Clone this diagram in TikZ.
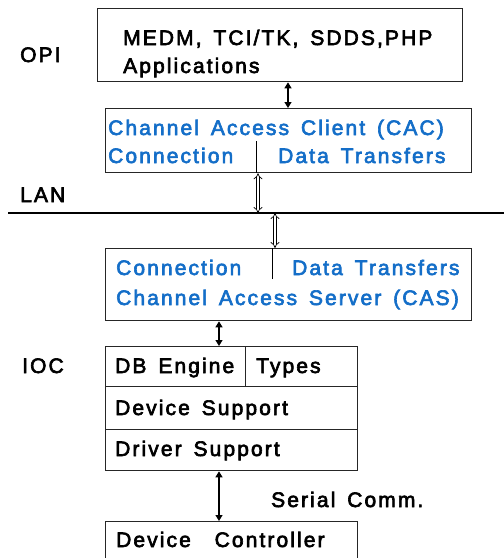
\documentclass[tikz,border=0pt]{standalone}
\usepackage{fontspec}
\setmainfont{Liberation Sans}
\newfontfamily\diagfont[LetterSpace=10, FakeBold=3, WordSpace=1.5]{Liberation Sans}
\usetikzlibrary{arrows.meta}

\definecolor{cablue}{RGB}{20,110,200}

\begin{document}
\begin{tikzpicture}[x=1pt, y=-1pt,
    box/.style={draw=black!85, line width=1.3pt, inner sep=0pt, anchor=north west},
    txt/.style={anchor=base west, inner sep=0pt, font=\diagfont\fontsize{21}{24}\selectfont},
    catxt/.style={txt, text=cablue},
    link/.style={line width=1.2pt, {Triangle[width=7pt,length=6pt]}-{Triangle[width=7pt,length=6pt]}},
    lanlink/.style={double=white, double distance=2.4pt, line width=0.7pt, {Implies}-{Implies}}]

  %% Frame
  \useasboundingbox (0,0) rectangle (504,558);
  \clip (0,0) rectangle (504,558);

  %% Layer names
  \node[txt] (opi) at (20,62) {OPI};
  \node[txt] (lan) at (20,202) {LAN};
  \node[txt] (ioc) at (22,373) {IOC};

  %% OPI applications
  \node[box, minimum width=365pt, minimum height=73pt] (apps) at (97,8) {};
  \node[txt] (appsA) at (123,45) {MEDM, TCI/TK, SDDS,PHP};
  \node[txt] (appsB) at (123,73) {Applications};

  %% Channel access client
  \node[box, minimum width=366pt, minimum height=64pt] (cac) at (105,108) {};
  \node[catxt] (cacA) at (108,135) {Channel Access Client (CAC)};
  \node[catxt] (cacB) at (108,163) {Connection};
  \node[catxt] (cacC) at (278,163) {Data Transfers};
  \coordinate (cacsep) at (256,141);
  \draw[line width=1pt] (cacsep) -- (cacsep |- cac.south);

  %% LAN
  \coordinate (lanL) at (8,213);
  \coordinate (lanR) at (504,213);
  \draw[line width=1.6pt] (lanL) -- (lanR);

  %% Channel access server
  \node[box, minimum width=366pt, minimum height=72pt] (cas) at (105,248) {};
  \node[catxt] (casA) at (116,275) {Connection};
  \node[catxt] (casB) at (292,275) {Data Transfers};
  \node[catxt] (casC) at (116,305) {Channel Access Server (CAS)};
  \coordinate (cassep) at (272,279);
  \draw[line width=1pt] (cassep) -- (cassep |- cas.north);

  %% IOC stack
  \node[box, minimum width=140pt, minimum height=40pt] (db) at (105,346) {};
  \node[box, minimum width=112pt, minimum height=40pt] (types) at (245,346) {};
  \node[box, minimum width=252pt, minimum height=43pt] (devsup) at (105,386) {};
  \node[box, minimum width=252pt, minimum height=41pt] (drvsup) at (105,429) {};
  \node[txt] (dbT) at (115,373) {DB Engine};
  \node[txt] (typesT) at (256,373) {Types};
  \node[txt] (devsupT) at (115,415) {Device Support};
  \node[txt] (drvsupT) at (115,456) {Driver Support};

  %% Device controller
  \node[box, minimum width=252pt, minimum height=60pt] (ctrl) at (105,521) {};
  \node[txt] (ctrlT) at (116,547) {Device\ \ Controller};
  \node[txt] (serial) at (271,507) {Serial Comm.};

  %% Connectors
  \draw[link] (apps.south -| 288,0) -- (cac.north -| 288,0);
  \draw[lanlink] (cac.south -| 258,0) -- (lanL -| 258,0);
  \draw[lanlink] (lanL -| 275,0) -- (cas.north -| 275,0);
  \draw[link] (cas.south -| 219,0) -- (db.north -| 219,0);
  \draw[link] (drvsup.south -| 219,0) -- (ctrl.north -| 219,0);

\end{tikzpicture}
\end{document}
